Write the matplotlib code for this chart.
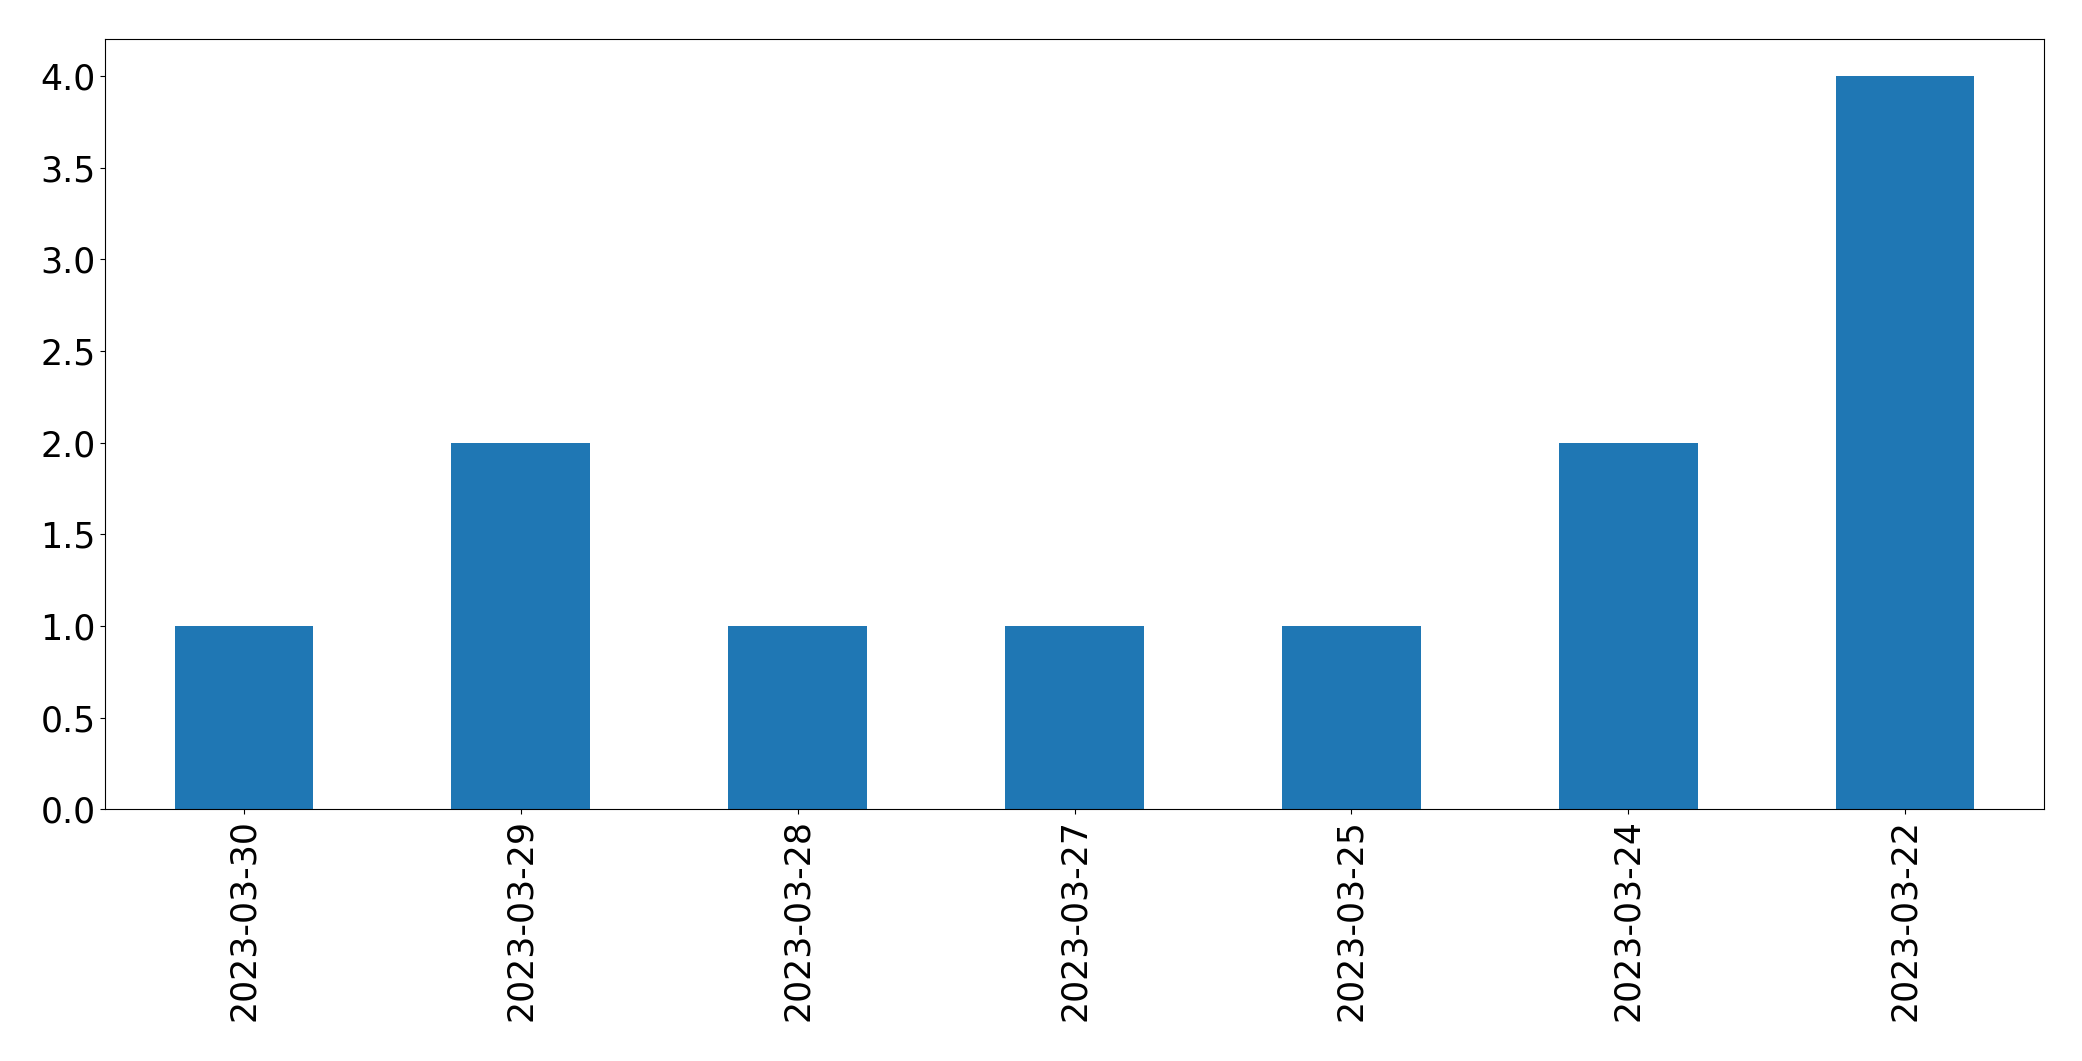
import matplotlib
matplotlib.use("Agg")
import matplotlib.pyplot as plt

dates = ["2023-03-30", "2023-03-29", "2023-03-28", "2023-03-27", "2023-03-25", "2023-03-24", "2023-03-22"]
counts = [1, 2, 1, 1, 1, 2, 4]

fig = plt.figure(figsize=(20.82, 10.61), dpi=100)
ax = fig.add_axes([105.3 / 2082, 1 - 809.3 / 1061, (2043.7 - 105.3) / 2082, (809.3 - 39.3) / 1061])
x = list(range(len(dates)))
ax.bar(x, counts, width=0.5, color="#1f77b4")
ax.set_xlim(-0.5, len(dates) - 0.5)
ax.set_ylim(0, 4.2)
ax.set_xticks(x)
ax.set_xticklabels(dates, rotation=90)
ax.tick_params(axis="both", labelsize=25)
for s in ax.spines.values():
    s.set_color("black")
fig.savefig("out.png", dpi=100)
